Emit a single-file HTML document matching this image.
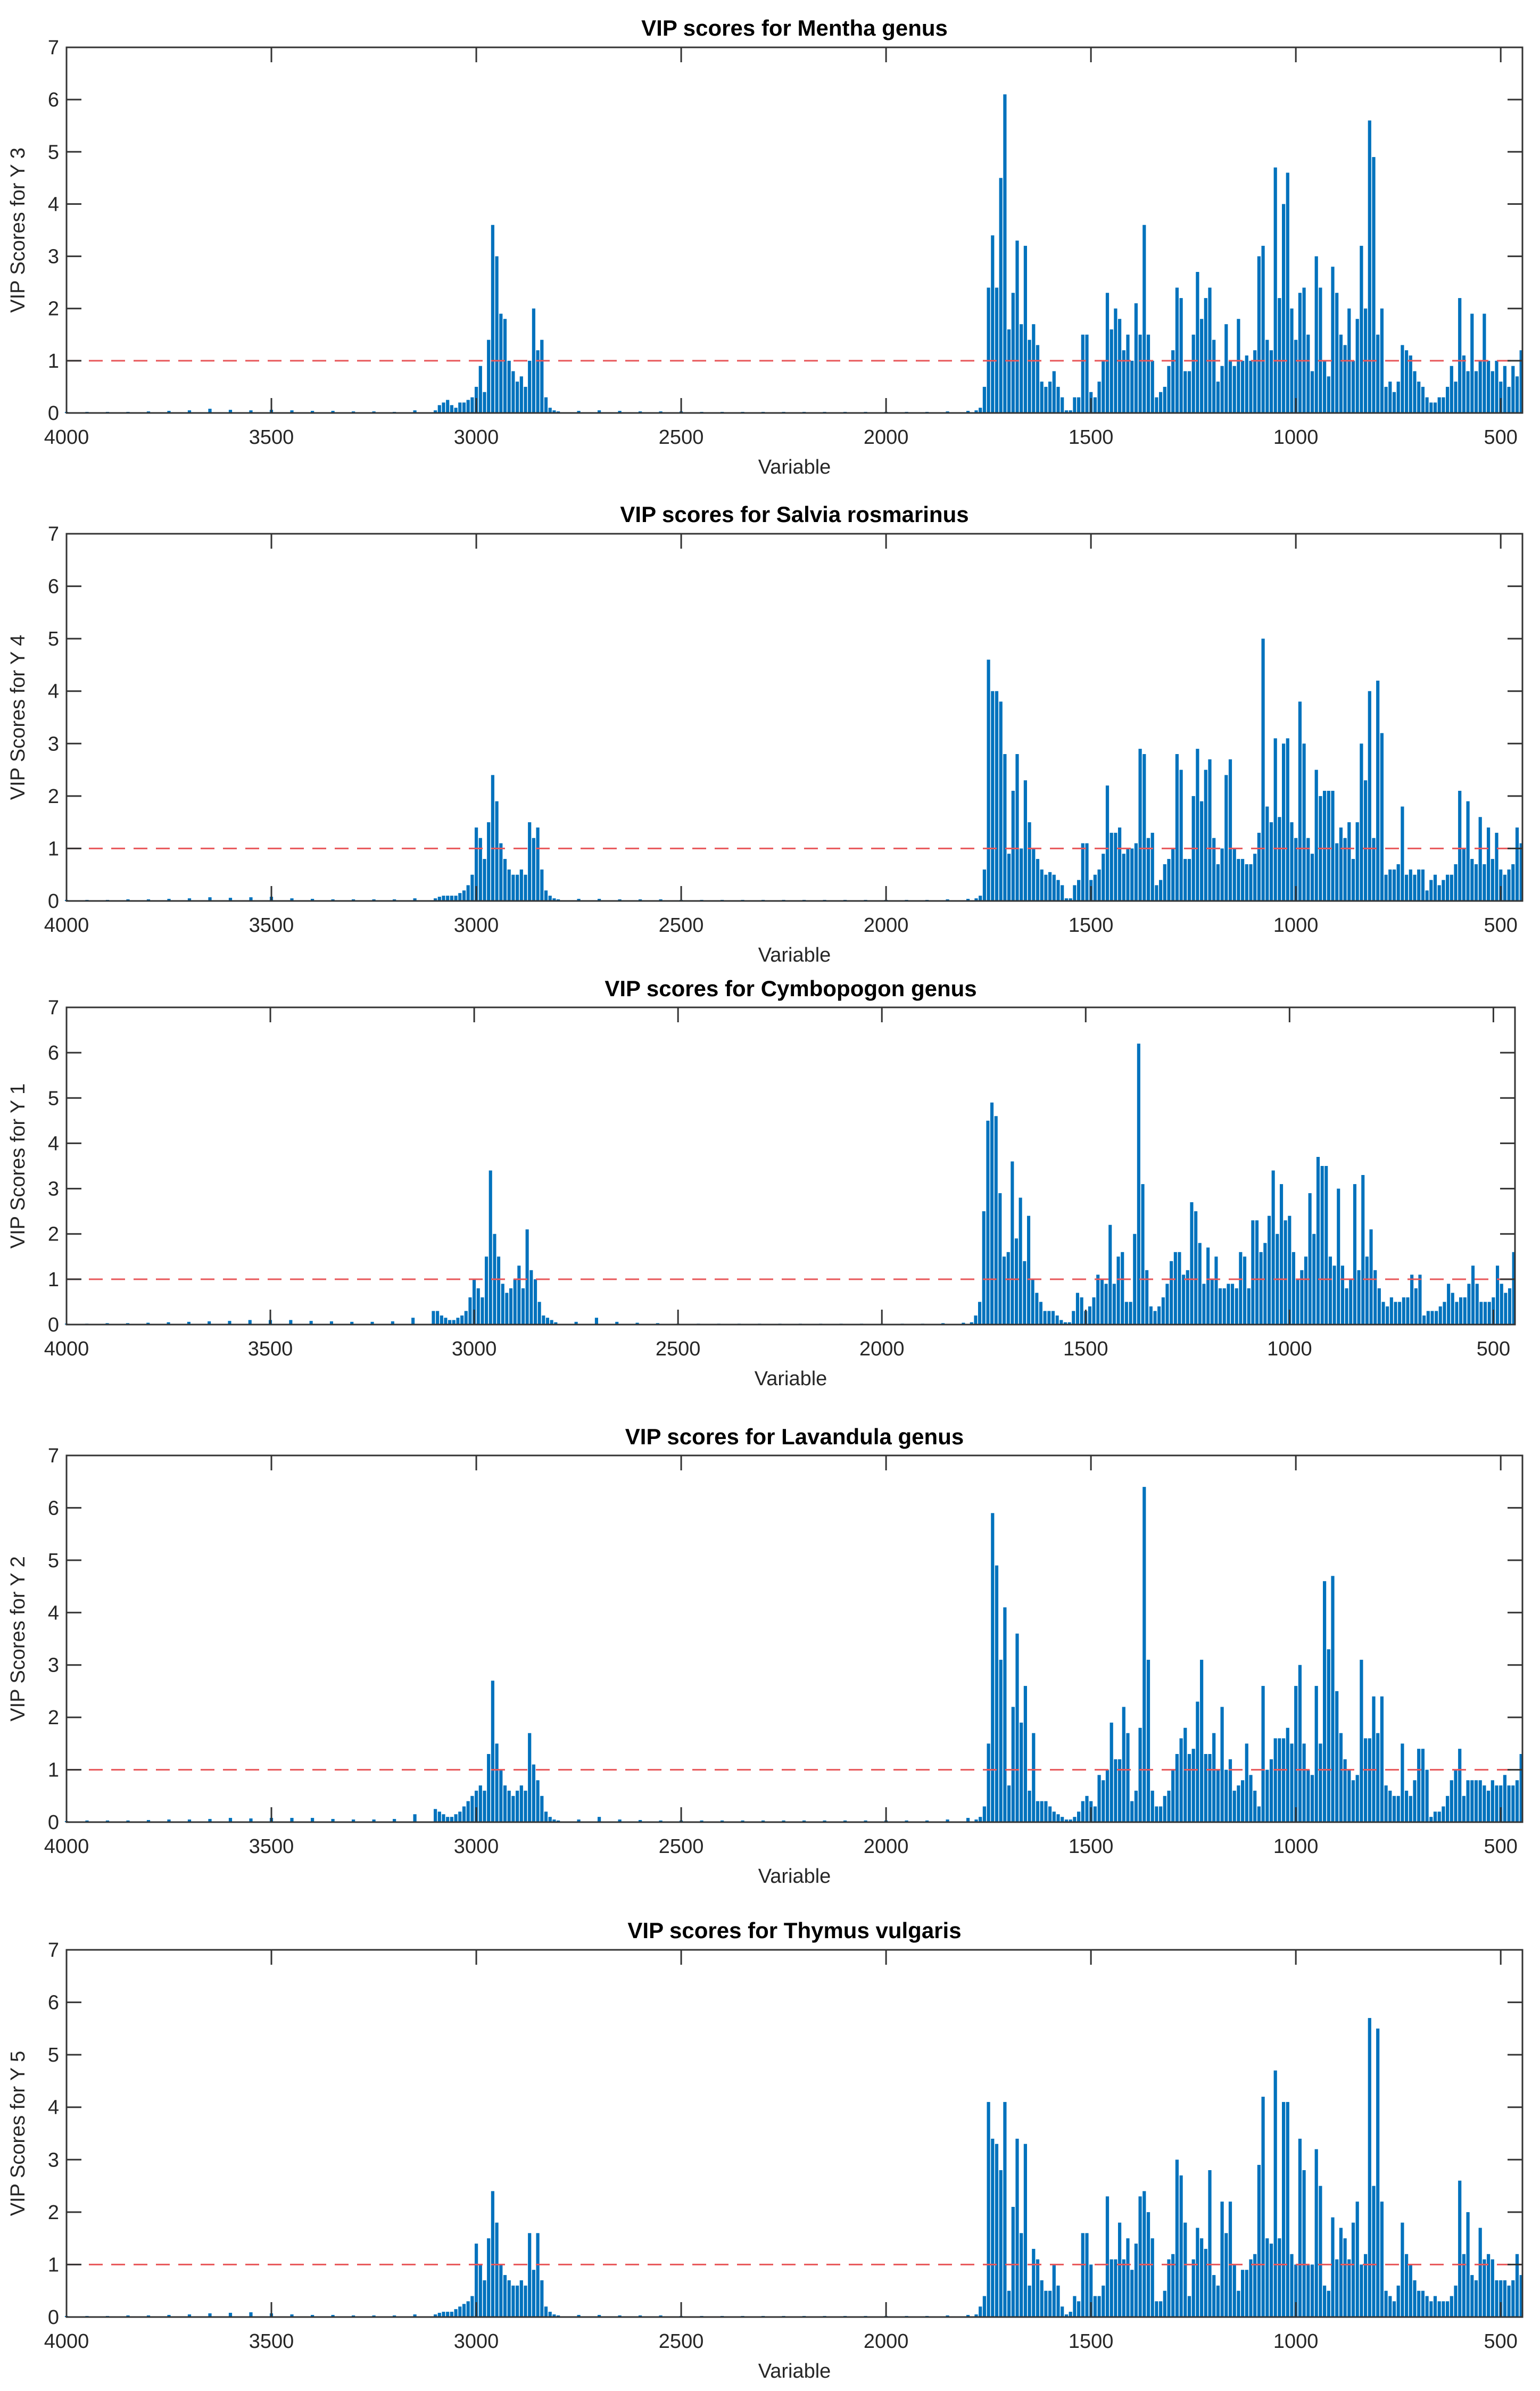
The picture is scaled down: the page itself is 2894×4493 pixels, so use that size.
<!DOCTYPE html>
<html><head><meta charset="utf-8"><title>VIP scores</title>
<style>
html,body{margin:0;padding:0;background:#fff;}
svg{display:block;font-family:"Liberation Sans",Arial,sans-serif;}
</style></head>
<body>
<svg id="fig" width="2894" height="4493" viewBox="0 0 2894 4493" xmlns="http://www.w3.org/2000/svg"></svg>
<script>
// ---- data ----
const wnLow = [4000,3950,3900,3850,3800,3750,3700,3650,3600,3550,3500,3450,3400,3350,3300,3250,3200,3150];
const wnCH = [3100,3090,3080,3070,3060,3050,3040,3030,3020,3010,3000,2990,2980,2970,2960,2950,2940,2930,2920,2910,2900,2890,2880,2870,2860,2850,2840,2830,2820,2810,2800];
const wnMid = [2750,2700,2650,2600,2550,2500,2450,2400,2350,2300,2250,2200,2150,2100,2050,2000,1950,1900,1850,1800];
const wnFP = [1780,1770,1760,1750,1740,1730,1720,1710,1700,1690,1680,1670,1660,1650,1640,1630,1620,1610,1600,1590,1580,1570,1560,1550,1540,1530,1520,1510,1500,1490,1480,1470,1460,1450,1440,1430,1420,1410,1400,1390,1380,1370,1360,1350,1340,1330,1320,1310,1300,1290,1280,1270,1260,1250,1240,1230,1220,1210,1200,1190,1180,1170,1160,1150,1140,1130,1120,1110,1100,1090,1080,1070,1060,1050,1040,1030,1020,1010,1000,990,980,970,960,950,940,930,920,910,900,890,880,870,860,850,840,830,820,810,800,790,780,770,760,750,740,730,720,710,700,690,680,670,660,650,640,630,620,610,600,590,580,570,560,550,540,530,520,510,500,490,480,470,460,450];

const titles = ["VIP scores for Mentha genus","VIP scores for Salvia rosmarinus","VIP scores for Cymbopogon genus","VIP scores for Lavandula genus","VIP scores for Thymus vulgaris"];
const yLabels = ["VIP Scores for Y 3","VIP Scores for Y 4","VIP Scores for Y 1","VIP Scores for Y 2","VIP Scores for Y 5"];
const xTicks = [4000,3500,3000,2500,2000,1500,1000,500];
const yTicks = [0,1,2,3,4,5,6,7];
const threshold = 1;

const low1 = [0.02,0.02,0.02,0.02,0.03,0.04,0.05,0.08,0.06,0.05,0.06,0.05,0.04,0.04,0.03,0.03,0.02,0.05];
const low2 = [0.02,0.02,0.02,0.03,0.03,0.04,0.05,0.07,0.06,0.07,0.08,0.05,0.04,0.03,0.03,0.03,0.03,0.05];
const low3 = [0.02,0.02,0.03,0.03,0.04,0.05,0.06,0.07,0.08,0.1,0.1,0.1,0.08,0.07,0.06,0.06,0.07,0.15];
const low4 = [0.02,0.03,0.03,0.03,0.04,0.05,0.05,0.06,0.08,0.07,0.08,0.08,0.08,0.06,0.05,0.05,0.06,0.15];
const low5 = [0.02,0.02,0.02,0.03,0.03,0.04,0.05,0.07,0.08,0.09,0.07,0.05,0.04,0.04,0.03,0.03,0.03,0.05];

const ch1 = [0.05,0.15,0.2,0.25,0.15,0.1,0.2,0.2,0.25,0.3,0.5,0.9,0.4,1.4,3.6,3.0,1.9,1.8,1.0,0.8,0.6,0.7,0.5,1.0,2.0,1.2,1.4,0.3,0.1,0.05,0.03];
const ch2 = [0.05,0.08,0.1,0.1,0.1,0.1,0.15,0.2,0.3,0.5,1.4,1.2,0.8,1.5,2.4,1.9,1.1,0.8,0.6,0.5,0.5,0.6,0.5,1.5,1.2,1.4,0.6,0.2,0.1,0.05,0.03];
const ch3 = [0.3,0.3,0.2,0.15,0.1,0.1,0.15,0.2,0.3,0.6,1.0,0.8,0.6,1.5,3.4,2.0,1.5,0.9,0.7,0.8,1.0,1.3,0.8,2.1,1.2,1.0,0.5,0.2,0.15,0.1,0.05];
const ch4 = [0.25,0.2,0.15,0.1,0.1,0.15,0.2,0.3,0.4,0.5,0.6,0.7,0.6,1.3,2.7,1.5,1.0,0.7,0.6,0.5,0.6,0.7,0.6,1.7,1.1,0.8,0.5,0.2,0.1,0.05,0.03];
const ch5 = [0.05,0.08,0.1,0.1,0.1,0.15,0.2,0.25,0.3,0.4,1.4,1.0,0.7,1.5,2.4,1.8,1.0,0.8,0.7,0.6,0.6,0.7,0.6,1.6,0.9,1.6,0.7,0.2,0.1,0.05,0.03];

const mid1 = [0.04,0.05,0.04,0.03,0.03,0.03,0.02,0.02,0.02,0.02,0.02,0.02,0.02,0.02,0.02,0.02,0.02,0.02,0.03,0.04];
const mid2 = [0.04,0.04,0.03,0.03,0.03,0.02,0.02,0.02,0.02,0.02,0.02,0.02,0.02,0.02,0.02,0.02,0.02,0.02,0.03,0.04];
const mid3 = [0.06,0.15,0.06,0.04,0.03,0.02,0.02,0.02,0.02,0.02,0.02,0.02,0.02,0.02,0.02,0.02,0.02,0.02,0.03,0.04];
const mid4 = [0.05,0.1,0.05,0.04,0.03,0.03,0.03,0.03,0.03,0.03,0.03,0.03,0.03,0.03,0.03,0.03,0.03,0.03,0.05,0.08];
const mid5 = [0.04,0.04,0.03,0.03,0.03,0.02,0.02,0.02,0.02,0.02,0.02,0.02,0.02,0.02,0.02,0.02,0.02,0.02,0.03,0.04];

const fp1 = [0.05,0.1,0.5,2.4,3.4,2.4,4.5,6.1,1.6,2.3,3.3,1.7,3.2,1.4,1.7,1.3,0.6,0.5,0.6,0.8,0.5,0.3,0.05,0.05,0.3,0.3,1.5,1.5,0.4,0.3,0.6,1.0,2.3,1.6,2.0,1.8,1.2,1.5,1.0,2.1,1.5,3.6,1.5,1.0,0.3,0.4,0.5,0.9,1.2,2.4,2.2,0.8,0.8,1.5,2.7,1.8,2.2,2.4,1.4,0.6,0.9,1.7,1.0,0.9,1.8,1.0,1.1,1.0,1.2,3.0,3.2,1.4,1.2,4.7,2.2,4.0,4.6,2.0,1.4,2.3,2.4,1.5,0.8,3.0,2.4,1.0,0.7,2.8,2.3,1.5,1.3,2.0,1.0,1.8,3.2,2.0,5.6,4.9,1.5,2.0,0.5,0.6,0.4,0.6,1.3,1.2,1.1,0.8,0.6,0.5,0.3,0.2,0.2,0.3,0.3,0.5,0.9,0.6,2.2,1.1,0.8,1.9,0.8,1.0,1.9,1.0,0.8,1.0,0.6,0.9,0.5,0.9,0.7,1.2];
const fp2 = [0.05,0.1,0.6,4.6,4.0,4.0,3.8,2.8,0.9,2.1,2.8,1.0,2.3,1.5,1.0,0.8,0.6,0.5,0.55,0.5,0.4,0.3,0.05,0.05,0.3,0.4,1.1,1.1,0.4,0.5,0.6,0.9,2.2,1.3,1.3,1.4,0.9,1.0,1.0,1.1,2.9,2.8,1.2,1.3,0.3,0.4,0.7,0.8,1.0,2.8,2.5,0.8,0.8,2.0,2.9,1.9,2.5,2.7,1.2,0.7,1.0,2.4,2.7,1.0,0.8,0.8,0.7,0.7,0.9,1.3,5.0,1.8,1.5,3.1,1.6,3.0,3.1,1.5,1.2,3.8,3.0,1.2,0.9,2.5,2.0,2.1,2.1,2.1,1.1,1.4,1.2,1.5,0.8,1.5,3.0,2.3,4.0,1.2,4.2,3.2,0.5,0.6,0.6,0.7,1.8,0.5,0.6,0.5,0.6,0.6,0.2,0.4,0.5,0.3,0.4,0.5,0.5,0.7,2.1,1.0,1.9,0.8,0.7,1.6,0.7,1.4,0.8,1.3,0.6,0.5,0.6,0.7,1.4,1.1];
const fp3 = [0.05,0.2,0.5,2.5,4.5,4.9,4.6,2.9,1.5,1.6,3.6,1.9,2.8,1.4,2.4,1.0,0.7,0.5,0.3,0.3,0.3,0.2,0.1,0.05,0.05,0.3,0.7,0.6,0.3,0.4,0.6,1.1,1.0,0.9,2.2,0.9,1.5,1.6,0.5,0.5,2.0,6.2,3.1,1.2,0.4,0.3,0.4,0.6,0.9,1.4,1.6,1.6,1.1,1.2,2.7,2.5,1.8,0.9,1.7,1.0,1.5,0.8,0.8,0.9,0.9,0.8,1.6,1.5,0.8,2.3,2.3,1.6,1.8,2.4,3.4,2.0,3.1,2.3,2.4,1.6,1.0,1.2,1.5,2.9,2.0,3.7,3.5,3.5,1.5,1.3,3.0,1.3,0.8,1.0,3.1,1.2,3.3,1.5,2.1,1.2,0.8,0.5,0.4,0.6,0.5,0.5,0.6,0.6,1.1,0.8,1.1,0.2,0.3,0.3,0.3,0.4,0.5,0.9,0.7,0.5,0.6,0.6,0.9,1.3,0.9,0.5,0.5,0.5,0.6,1.3,0.9,0.7,0.8,1.6];
const fp4 = [0.05,0.1,0.3,1.5,5.9,4.9,3.1,4.1,0.7,2.2,3.6,1.9,2.6,0.6,1.7,0.4,0.4,0.4,0.3,0.2,0.15,0.1,0.05,0.05,0.1,0.2,0.4,0.5,0.4,0.3,0.9,0.8,1.0,1.9,1.2,1.2,2.2,1.7,0.4,0.6,1.8,6.4,3.1,0.6,0.3,0.3,0.5,0.6,1.0,1.3,1.6,1.8,1.3,1.4,2.3,3.1,1.3,1.3,1.7,1.0,2.2,1.0,1.2,0.6,0.7,0.8,1.5,0.9,0.6,0.3,2.6,1.0,1.2,1.6,1.6,1.6,1.8,1.5,2.6,3.0,1.5,1.0,0.9,2.6,1.5,4.6,3.3,4.7,2.5,1.7,1.2,1.0,0.8,0.9,3.1,1.6,1.6,2.4,1.7,2.4,0.7,0.6,0.5,0.5,1.5,0.6,0.5,0.8,1.4,1.4,1.0,0.1,0.2,0.2,0.3,0.5,0.8,1.0,1.4,0.5,0.8,0.8,0.8,0.8,0.7,0.6,0.8,0.7,0.7,0.9,0.7,0.7,0.8,1.3];
const fp5 = [0.05,0.2,0.4,4.1,3.4,3.3,2.8,4.1,0.5,2.1,3.4,1.6,3.3,0.6,1.3,1.1,0.7,0.5,0.5,1.0,0.6,0.2,0.05,0.1,0.4,0.3,1.6,1.6,1.0,0.4,0.4,0.6,2.3,1.1,1.1,1.8,1.1,1.5,0.9,1.4,2.3,2.4,2.0,1.5,0.3,0.3,0.5,1.1,1.2,3.0,2.7,1.8,0.4,1.1,1.7,1.5,1.3,2.8,0.8,0.6,2.2,1.6,2.2,1.0,0.5,0.9,0.9,1.1,1.2,2.9,4.2,1.5,1.4,4.7,1.5,4.1,4.1,1.2,1.0,3.4,2.8,1.0,1.0,3.2,2.5,0.6,0.5,1.9,1.1,1.7,1.5,1.1,1.8,2.2,1.0,1.2,5.7,2.5,5.5,2.2,0.5,0.4,0.3,0.6,1.8,1.2,1.0,0.7,0.5,0.5,0.4,0.3,0.4,0.3,0.3,0.3,0.4,0.6,2.6,1.2,2.0,0.8,0.7,1.7,1.1,1.2,1.1,0.7,0.7,0.7,0.6,0.7,1.2,0.8];

// ---- layout (presentation only) ----
const panels = [
  {title:titles[0], ylab:yLabels[0], low:low1, ch:ch1, mid:mid1, fp:fp1, top:89, zero:776, left:125, right:2861, titleY:52},
  {title:titles[1], ylab:yLabels[1], low:low2, ch:ch2, mid:mid2, fp:fp2, top:1003, zero:1693, left:125, right:2861, titleY:966},
  {title:titles[2], ylab:yLabels[2], low:low3, ch:ch3, mid:mid3, fp:fp3, top:1893, zero:2489, left:125, right:2847, titleY:1857},
  {title:titles[3], ylab:yLabels[3], low:low4, ch:ch4, mid:mid4, fp:fp4, top:2735, zero:3424, left:125, right:2861, titleY:2699},
  {title:titles[4], ylab:yLabels[4], low:low5, ch:ch5, mid:mid5, fp:fp5, top:3664, zero:4354, left:125, right:2861, titleY:3627}
];
const X_MAX = 4000, X_MIN = 447, Y_MAX = 7;
const NS = "http://www.w3.org/2000/svg";
const svg = document.getElementById('fig');
function mk(tag, attrs, parent){
  const e = document.createElementNS(NS, tag);
  for (const k in attrs) e.setAttribute(k, attrs[k]);
  (parent||svg).appendChild(e);
  return e;
}

panels.forEach((p, i) => {
  const g = mk('g', {});
  
  
  const xs = wn => p.left + (X_MAX - wn) / (X_MAX - X_MIN) * (p.right - p.left);
  const ys = v => p.zero - v / Y_MAX * (p.zero - p.top);

  const bars = mk('g', {fill:'#0072BD'}, g);
  
  
  const w = Math.abs(xs(0) - xs(10)) * 0.8;
  const segs = [[wnLow, p.low], [wnCH, p.ch], [wnMid, p.mid], [wnFP, p.fp]];
  segs.forEach(([wns, vals]) => {
    wns.forEach((wn, k) => {
      const v = vals[k];
      const y = ys(v);
      const r = mk('rect', {x:(xs(wn) - w/2).toFixed(1), y:y.toFixed(1), width:w.toFixed(1), height:Math.max(1.5, p.zero - y).toFixed(1)}, bars);
      
      
    });
  });

  const thr = mk('line', {x1:p.left, x2:p.right, y1:ys(threshold), y2:ys(threshold), stroke:'#e8575a', 'stroke-width':3, 'stroke-dasharray':'26 16'}, g);
  
  

  const box = mk('rect', {x:p.left, y:p.top, width:p.right - p.left, height:p.zero - p.top, fill:'none', stroke:'#333', 'stroke-width':3}, g);
  
  

  yTicks.forEach(t => {
    const y = ys(t);
    mk('line', {x1:p.left, x2:p.left + 28, y1:y, y2:y, stroke:'#333', 'stroke-width':3}, g);
    mk('line', {x1:p.right, x2:p.right - 28, y1:y, y2:y, stroke:'#333', 'stroke-width':3}, g);
    const tl = mk('text', {x:p.left - 14, y:y + 13, 'text-anchor':'end', 'font-size':38, fill:'#262626'}, g);
    tl.textContent = t;
    
    
  });
  xTicks.forEach(t => {
    const x = xs(t);
    mk('line', {x1:x, x2:x, y1:p.zero, y2:p.zero - 28, stroke:'#333', 'stroke-width':3}, g);
    mk('line', {x1:x, x2:x, y1:p.top, y2:p.top + 28, stroke:'#333', 'stroke-width':3}, g);
    const tl = mk('text', {x:x, y:p.zero + 58, 'text-anchor':'middle', 'font-size':38, fill:'#262626'}, g);
    tl.textContent = t;
    
    
  });

  const cx = (p.left + p.right) / 2;
  const tt = mk('text', {x:cx, y:p.titleY + 15, 'text-anchor':'middle', 'font-size':42, 'font-weight':'bold', fill:'#000'}, g);
  tt.textContent = p.title;
  
  

  const xl = mk('text', {x:cx, y:p.zero + 114, 'text-anchor':'middle', 'font-size':38, fill:'#262626'}, g);
  xl.textContent = 'Variable';
  
  

  const my = (p.top + p.zero) / 2;
  const yl = mk('text', {x:46, y:my, 'text-anchor':'middle', 'font-size':38, fill:'#262626', transform:'rotate(-90 46 ' + my + ')'}, g);
  yl.textContent = p.ylab;
  
  
});
</script>
</body></html>
